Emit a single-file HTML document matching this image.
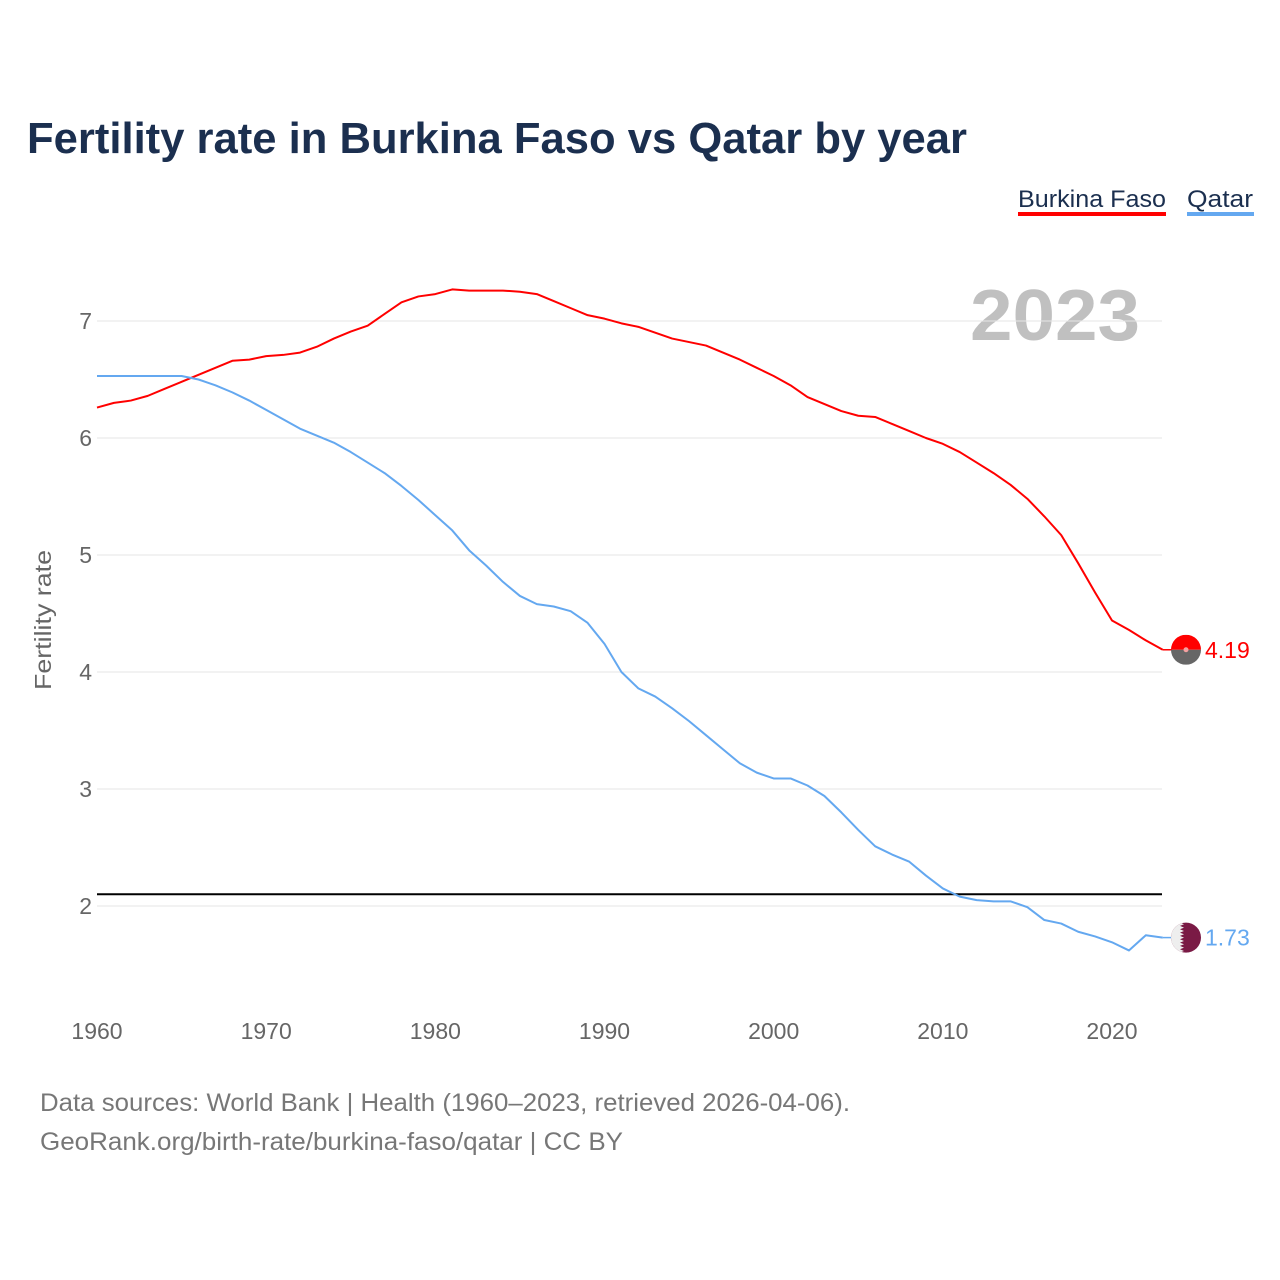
<!DOCTYPE html>
<html><head><meta charset="utf-8"><style>
html,body{margin:0;padding:0;background:#fff;width:1280px;height:1280px;overflow:hidden}
svg{display:block;font-family:"Liberation Sans",sans-serif}
</style></head><body>
<svg id="c" width="1280" height="1280">
<text x="27" y="153" font-size="44" font-weight="bold" fill="#1b2f4f" textLength="940" lengthAdjust="spacingAndGlyphs">Fertility rate in Burkina Faso vs Qatar by year</text>
<g>
<text x="1018" y="207" font-size="24" fill="#1b2f4f" textLength="148" lengthAdjust="spacingAndGlyphs">Burkina Faso</text>
<rect x="1018" y="212" width="148" height="4" fill="#ff0000"/>
<text x="1187" y="207" font-size="24" fill="#1b2f4f" textLength="66" lengthAdjust="spacingAndGlyphs">Qatar</text>
<rect x="1187" y="212" width="67" height="4" fill="#64a8f0"/>
</g>
<text x="1140" y="340" font-size="72" font-weight="bold" fill="#c0c0c0" text-anchor="end" textLength="170" lengthAdjust="spacingAndGlyphs">2023</text>
<text transform="translate(51,620) rotate(-90)" font-size="23" fill="#666" text-anchor="middle" textLength="140" lengthAdjust="spacingAndGlyphs">Fertility rate</text>
<g id="grid"></g><g id="lines"></g>
<text x="40" y="1111" font-size="25" fill="#777" textLength="810" lengthAdjust="spacingAndGlyphs">Data sources: World Bank | Health (1960–2023, retrieved 2026-04-06).</text>
<text x="40" y="1150" font-size="25" fill="#777" textLength="583" lengthAdjust="spacingAndGlyphs">GeoRank.org/birth-rate/burkina-faso/qatar | CC BY</text>
</svg>
<script>
const years=[];for(let y=1960;y<=2023;y++)years.push(y);
const burkina=[6.26,6.30,6.32,6.36,6.42,6.48,6.54,6.60,6.66,6.67,6.70,6.71,6.73,6.78,6.85,6.91,6.96,7.06,7.16,7.21,7.23,7.27,7.26,7.26,7.26,7.25,7.23,7.17,7.11,7.05,7.02,6.98,6.95,6.90,6.85,6.82,6.79,6.73,6.67,6.60,6.53,6.45,6.35,6.29,6.23,6.19,6.18,6.12,6.06,6.00,5.95,5.88,5.79,5.70,5.60,5.48,5.33,5.17,4.93,4.68,4.44,4.36,4.27,4.19];
const qatar=[6.53,6.53,6.53,6.53,6.53,6.53,6.50,6.45,6.39,6.32,6.24,6.16,6.08,6.02,5.96,5.88,5.79,5.70,5.59,5.47,5.34,5.21,5.04,4.91,4.77,4.65,4.58,4.56,4.52,4.42,4.24,4.00,3.86,3.79,3.69,3.58,3.46,3.34,3.22,3.14,3.09,3.09,3.03,2.94,2.80,2.65,2.51,2.44,2.38,2.26,2.15,2.08,2.05,2.04,2.04,1.99,1.88,1.85,1.78,1.74,1.69,1.62,1.75,1.73];
const yTicks=[2,3,4,5,6,7];
const xTicks=[1960,1970,1980,1990,2000,2010,2020];
const replacement=[2.1];
const NS="http://www.w3.org/2000/svg";
const X=y=>97+(y-1960)*(1015/60);
const Y=v=>906-(v-2)*117;
function el(t,a,p){const e=document.createElementNS(NS,t);for(const k in a)e.setAttribute(k,a[k]);p.appendChild(e);return e;}
const g=document.getElementById('grid'),L=document.getElementById('lines');
yTicks.forEach(v=>{
 const l=el('line',{x1:97,x2:1162,y1:Y(v),y2:Y(v),stroke:'#e6e6e6','stroke-width':1},g);
 
 
 const t=el('text',{x:92,y:Y(v)+8,'font-size':23,fill:'#666','text-anchor':'end'},g);t.textContent=v;
 
 
});
xTicks.forEach(v=>{
 const t=el('text',{x:X(v),y:1039,'font-size':23,fill:'#666','text-anchor':'middle'},g);t.textContent=v;
 
 
});
replacement.forEach(v=>{
 const l=el('line',{x1:97,x2:1162,y1:Y(v),y2:Y(v),stroke:'#000','stroke-width':2},L);
 
 
});
function series(arr,col,name){
 const p=el('polyline',{points:arr.map((v,i)=>X(years[i])+','+Y(v)).join(' '),fill:'none',stroke:col,'stroke-width':2,'stroke-linejoin':'round'},L);
 
 
 const last=arr[arr.length-1],cy=Y(last);
 el('line',{x1:X(2023),x2:1172,y1:cy,y2:cy,stroke:col,'stroke-width':1.5},L);
 return cy;
}
const by=series(burkina,'#ff0000','burkina-faso');
const qy=series(qatar,'#64a8f0','qatar');
const bf=el('g',{},L);


el('clipPath',{id:'cb'},bf).appendChild(document.createElementNS(NS,'circle')).setAttribute('r',15);
document.querySelector('#cb circle').setAttribute('cx',1186);document.querySelector('#cb circle').setAttribute('cy',by);
el('rect',{x:1171,y:by-15,width:30,height:15,fill:'#ff0000','clip-path':'url(#cb)'},bf);
el('rect',{x:1171,y:by,width:30,height:15,fill:'#666','clip-path':'url(#cb)'},bf);
el('circle',{cx:1186,cy:by,r:2.5,fill:'#f5a0a0'},bf);
const bt=el('text',{x:1205,y:by+8,'font-size':23,fill:'#ff0000'},L);bt.textContent=burkina[burkina.length-1].toFixed(2);


const qf=el('g',{},L);


el('circle',{cx:1186,cy:qy,r:15,fill:'#7a1a45'},qf);
let pts=`1171,${qy-15} 1180,${qy-15}`;for(let k=0;k<9;k++){const yy=qy-15+k*30/9;pts+=` 1184,${yy+1.7} 1180,${yy+3.33}`;}pts+=` 1171,${qy+15}`;
el('clipPath',{id:'cq'},qf).appendChild(document.createElementNS(NS,'circle'));
const cc=document.querySelector('#cq circle');cc.setAttribute('cx',1186);cc.setAttribute('cy',qy);cc.setAttribute('r',15);
el('polygon',{points:pts,fill:'#eee','clip-path':'url(#cq)'},qf);
const qt=el('text',{x:1205,y:qy+8,'font-size':23,fill:'#64a8f0'},L);qt.textContent=qatar[qatar.length-1].toFixed(2);


</script>
</body></html>
